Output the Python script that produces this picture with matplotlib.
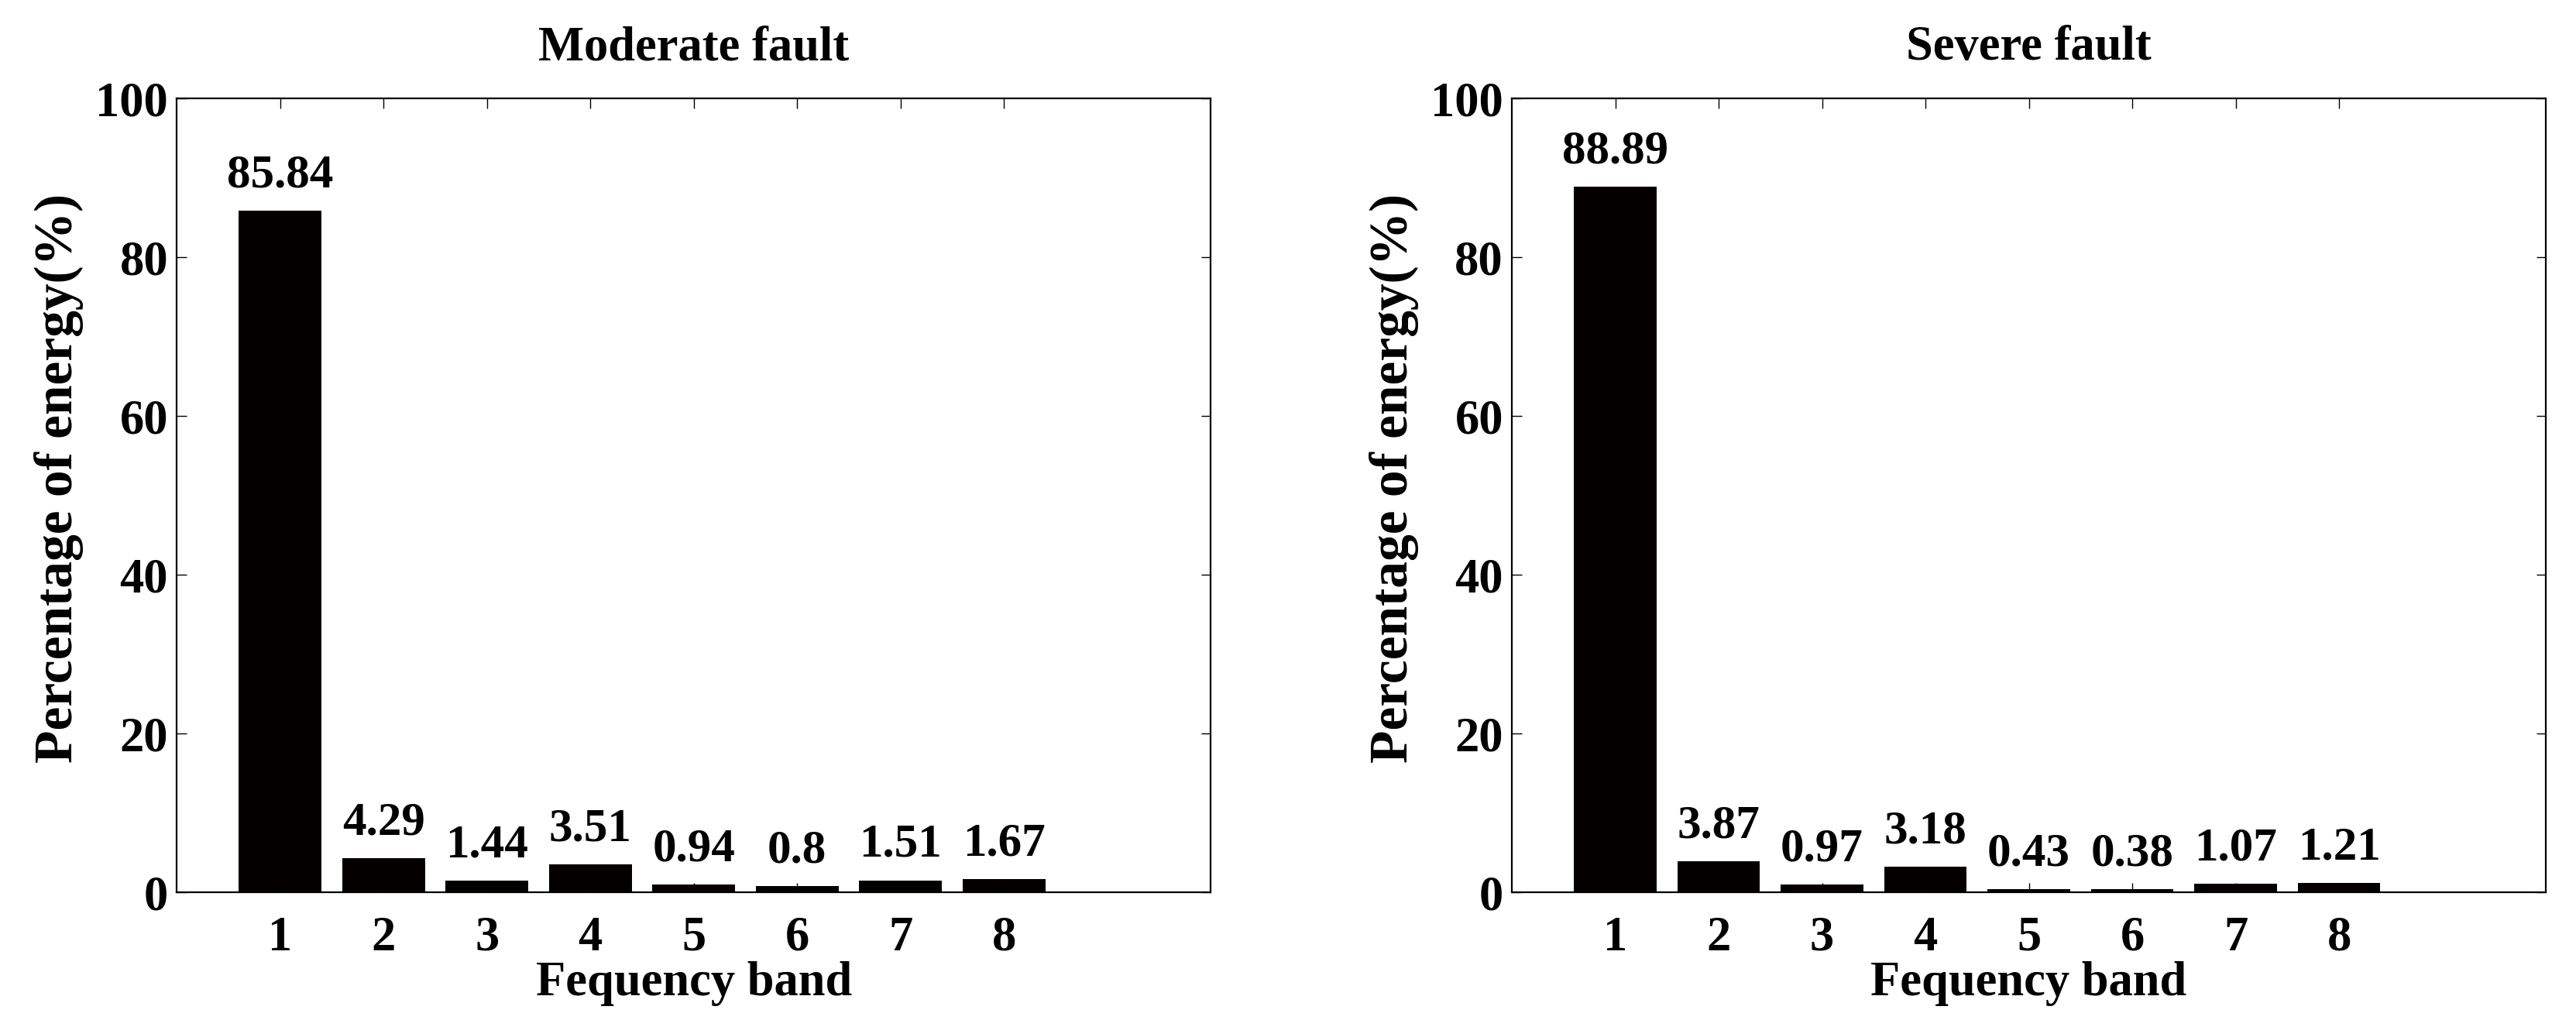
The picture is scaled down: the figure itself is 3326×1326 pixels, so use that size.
import matplotlib
matplotlib.use("Agg")
import matplotlib.pyplot as plt
import numpy as np

plt.rcParams['font.family'] = ['Liberation Serif', 'DejaVu Serif']
plt.rcParams['font.weight'] = 'bold'
plt.rcParams['font.size'] = 45

bands = [1, 2, 3, 4, 5, 6, 7, 8]
moderate = [85.84, 4.29, 1.44, 3.51, 0.94, 0.8, 1.51, 1.67]
severe = [88.89, 3.87, 0.97, 3.18, 0.43, 0.38, 1.07, 1.21]
titles = ["Moderate fault", "Severe fault"]
yticks = [0, 20, 40, 60, 80, 100]

fig = plt.figure(figsize=(33.26, 13.26), dpi=100)
ax1 = fig.add_axes([0.0686, 0.1312, 0.4014, 0.773])
ax2 = fig.add_axes([0.5869, 0.1312, 0.4014, 0.773])

for ax, vals, title in zip((ax1, ax2), (moderate, severe), titles):
    ax.bar(bands, vals, width=0.8, color='#050000')
    for x, v in zip(bands, vals):
        ax.annotate(f"{v:g}", (x, v), xytext=(0, 22), textcoords='offset points',
                    ha='center', va='baseline', fontweight='bold', fontsize=44)
    ax.set_xlim(0, 10)
    ax.set_ylim(0, 100)
    ax.set_xticks(bands)
    ax.set_yticks(yticks)
    ax.tick_params(direction='in', length=9, width=1, top=True, right=True,
                   labelsize=45)
    ax.tick_params(axis='x', pad=22)
    ax.tick_params(axis='y', pad=8)
    for s in ax.spines.values():
        s.set_linewidth(1.6)
    ax.set_title(title, fontweight='bold', fontsize=45, pad=36)
    ax.set_xlabel("Fequency band", fontweight='bold', labelpad=0)
    ax.set_ylabel("Percentage of energy(%)", fontweight='bold', fontsize=50)
    ax.yaxis.set_label_coords(-0.09, 0.522)

fig.savefig("out.png", dpi=100)
